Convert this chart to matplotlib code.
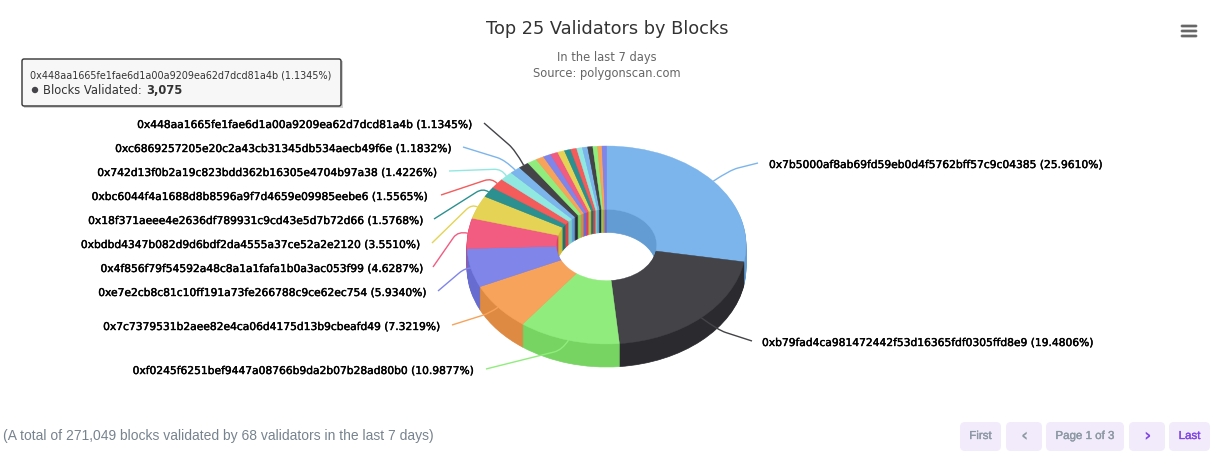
import numpy as np
import matplotlib
matplotlib.use('Agg')
import matplotlib.pyplot as plt
import matplotlib.patheffects as pe
from matplotlib.patches import FancyBboxPatch, PathPatch, Circle, Rectangle
from matplotlib.path import Path
from matplotlib.colors import to_rgb

# top 25 validators, the labelled ones first
validators = ['0x7b5000af8ab69fd59eb0d4f5762bff57c9c04385',
              '0xb79fad4ca981472442f53d16365fdf0305ffd8e9',
              '0xf0245f6251bef9447a08766b9da2b07b28ad80b0',
              '0x7c7379531b2aee82e4ca06d4175d13b9cbeafd49',
              '0xe7e2cb8c81c10ff191a73fe266788c9ce62ec754',
              '0x4f856f79f54592a48c8a1a1fafa1b0a3ac053f99',
              '0xbdbd4347b082d9d6bdf2da4555a37ce52a2e2120',
              '0x18f371aeee4e2636df789931c9cd43e5d7b72d66',
              '0xbc6044f4a1688d8b8596a9f7d4659e09985eebe6',
              '0x742d13f0b2a19c823bdd362b16305e4704b97a38',
              '0xc6869257205e20c2a43cb31345db534aecb49f6e',
              '0x448aa1665fe1fae6d1a00a9209ea62d7dcd81a4b']
shares = [25.9610, 19.4806, 10.9877, 7.3219, 5.9340, 4.6287,
          3.5510, 1.5768, 1.5565, 1.4226, 1.1832, 1.1345]
# the unlabelled small slices, estimated from their width on the rim
small_shares = [1.03, 0.88, 0.84, 0.82, 0.76, 0.69, 0.66, 0.62, 0.57, 0.56, 0.51, 0.48, 0.48]
palette = ['#7cb5ec', '#434348', '#90ed7d', '#f7a35c', '#8085e9',
           '#f15c80', '#e4d354', '#2b908f', '#f45b5b', '#91e8e1']

total_blocks = '271,049'
validator_count = 68

# label layout in pixels: text edge, connector end and connector knee
label_x = [769, 762, 473, 439, 425, 421, 419, 422, 426, 436, 450, 471]
label_y = [165, 343, 371, 327, 293, 269, 245, 221, 197, 173, 149, 125]
line_x = [758, 752, 486, 452, 438, 433, 432, 434, 441, 449, 463, 484]
line_y = [163, 341, 369, 325, 291, 267, 243, 219, 195, 171, 147, 123]
knee_x = [730, 718, 562, 490, 465, 458, 472, 483, 492, 502, 505, 515]
knee_y = [170, 330, 350, 313, 268, 231, 204, 188, 178, 169, 160, 150]

values = shares + small_shares
colors = [palette[i % len(palette)] for i in range(len(values))]

W, H = 1220, 467
cx, cy, rx, ry = 606.5, 245.0, 139.5, 99.0
depth = 23
ring_width = 0.64


def darker(c):
    return tuple(max(v - 0.1, 0) for v in to_rgb(c))


def ring(ax, cols, offset, lw):
    wedges, _ = ax.pie(values, colors=cols, startangle=90, counterclock=False, normalize=True,
                       center=(0, offset), radius=1, wedgeprops=dict(width=ring_width, linewidth=lw))
    for w in wedges:
        w.set_edgecolor(w.get_facecolor())


fig = plt.figure(figsize=(W / 100, H / 100), dpi=100, facecolor='white')

# pie axes squashed so that radius 1 is an ellipse of rx by ry
ax = fig.add_axes([(cx - 1.5 * rx) / W, (H - cy - 1.5 * ry) / H, 3 * rx / W, 3 * ry / H])
wall = [darker(c) for c in colors]
for k in range(depth, 0, -1):
    ring(ax, wall, -k / ry, 0.5)
ring(ax, colors, 0, 0.3)
ax.set_aspect('auto')
ax.set_xlim(-1.5, 1.5)
ax.set_ylim(-1.5, 1.5)
ax.axis('off')

# overlay in pixel coordinates for the text and furniture
ov = fig.add_axes([0, 0, 1, 1])
ov.set_xlim(0, W)
ov.set_ylim(H, 0)
ov.axis('off')
ov.patch.set_alpha(0)

ov.text(607, 28.5, 'Top 25 Validators by Blocks', ha='center', va='center',
        fontsize=12.8, color='#333333', family='DejaVu Sans')
ov.text(607, 58, 'In the last 7 days', ha='center', va='center', fontsize=8.3, color='#666666')
ov.text(607, 73, 'Source: polygonscan.com', ha='center', va='center', fontsize=8.3, color='#666666')

# menu icon
for y in [26, 31, 36]:
    ov.add_patch(FancyBboxPatch((1181, y - 1), 16, 2, boxstyle='round,pad=0,rounding_size=1',
                                fc='#666666', ec='#666666', lw=0.5))

# connectors and labels
cum = np.cumsum(values)
mids = (cum - np.array(values) / 2) / cum[-1] * 2 * np.pi
for i, name in enumerate(validators):
    px = cx + rx * np.sin(mids[i])
    py = cy - ry * np.cos(mids[i])
    end = np.array([line_x[i], line_y[i]], dtype=float)
    knee = np.array([knee_x[i], knee_y[i]], dtype=float)
    before = knee + (end - knee) / np.hypot(*(end - knee)) * 8
    path = Path([end, before, knee, (px, py)],
                [Path.MOVETO, Path.LINETO, Path.CURVE3, Path.CURVE3])
    ov.add_patch(PathPatch(path, fc='none', ec=colors[i], lw=1))
    txt = '%s (%.4f%%)' % (name, shares[i])
    ha = 'left' if i < 2 else 'right'
    t = ov.text(label_x[i], label_y[i], txt, ha=ha, va='center', fontsize=7.7, color='black')
    t.set_path_effects([pe.withStroke(linewidth=0.3, foreground='black')])

# tooltip
ov.add_patch(Rectangle((24, 61), 319, 47, fc='#000000', alpha=0.18, ec='none'))
ov.add_patch(FancyBboxPatch((22, 59), 319, 47, boxstyle='round,pad=0,rounding_size=2',
                            fc='#f7f7f7', ec='#333333', lw=1))
ov.text(30, 75, '%s (%.4f%%)' % (validators[11], shares[11]), ha='left', va='center',
        fontsize=6.9, color='#333333')
ov.add_patch(Circle((35, 90), 3.2, fc=colors[11], ec='none'))
ov.text(43, 90, 'Blocks Validated: ', ha='left', va='center', fontsize=8.3, color='#333333')
ov.text(146, 90, '3,075', ha='left', va='center', fontsize=8.3, color='#333333', fontweight='bold')

# footer
ov.text(3, 436, '(A total of %s blocks validated by %d validators in the last 7 days)'
        % (total_blocks, validator_count), ha='left', va='center', fontsize=10.0,
        color='#77838f', family='Liberation Sans')

buttons = [(960, 1001, 'First', '#8c98a4'), (1006, 1042, '\u2039', '#8c98a4'),
           (1046, 1124, 'Page 1 of 3', '#8c98a4'), (1129, 1165, '\u203a', '#8146e6'),
           (1169, 1210, 'Last', '#8146e6')]
for x0, x1, label, col in buttons:
    ov.add_patch(FancyBboxPatch((x0, 422), x1 - x0, 29, boxstyle='round,pad=0,rounding_size=5',
                                fc='#f1ebfb', ec='none'))
    big = len(label) == 1
    t = ov.text((x0 + x1) / 2, 436, label, ha='center', va='center', color=col,
                fontsize=13 if big else 8.3, fontweight='bold' if big else 'normal',
                family='DejaVu Sans' if big else 'Liberation Sans')
    if not big:
        t.set_path_effects([pe.withStroke(linewidth=0.25, foreground=col)])

fig.savefig('out.png', dpi=100)
